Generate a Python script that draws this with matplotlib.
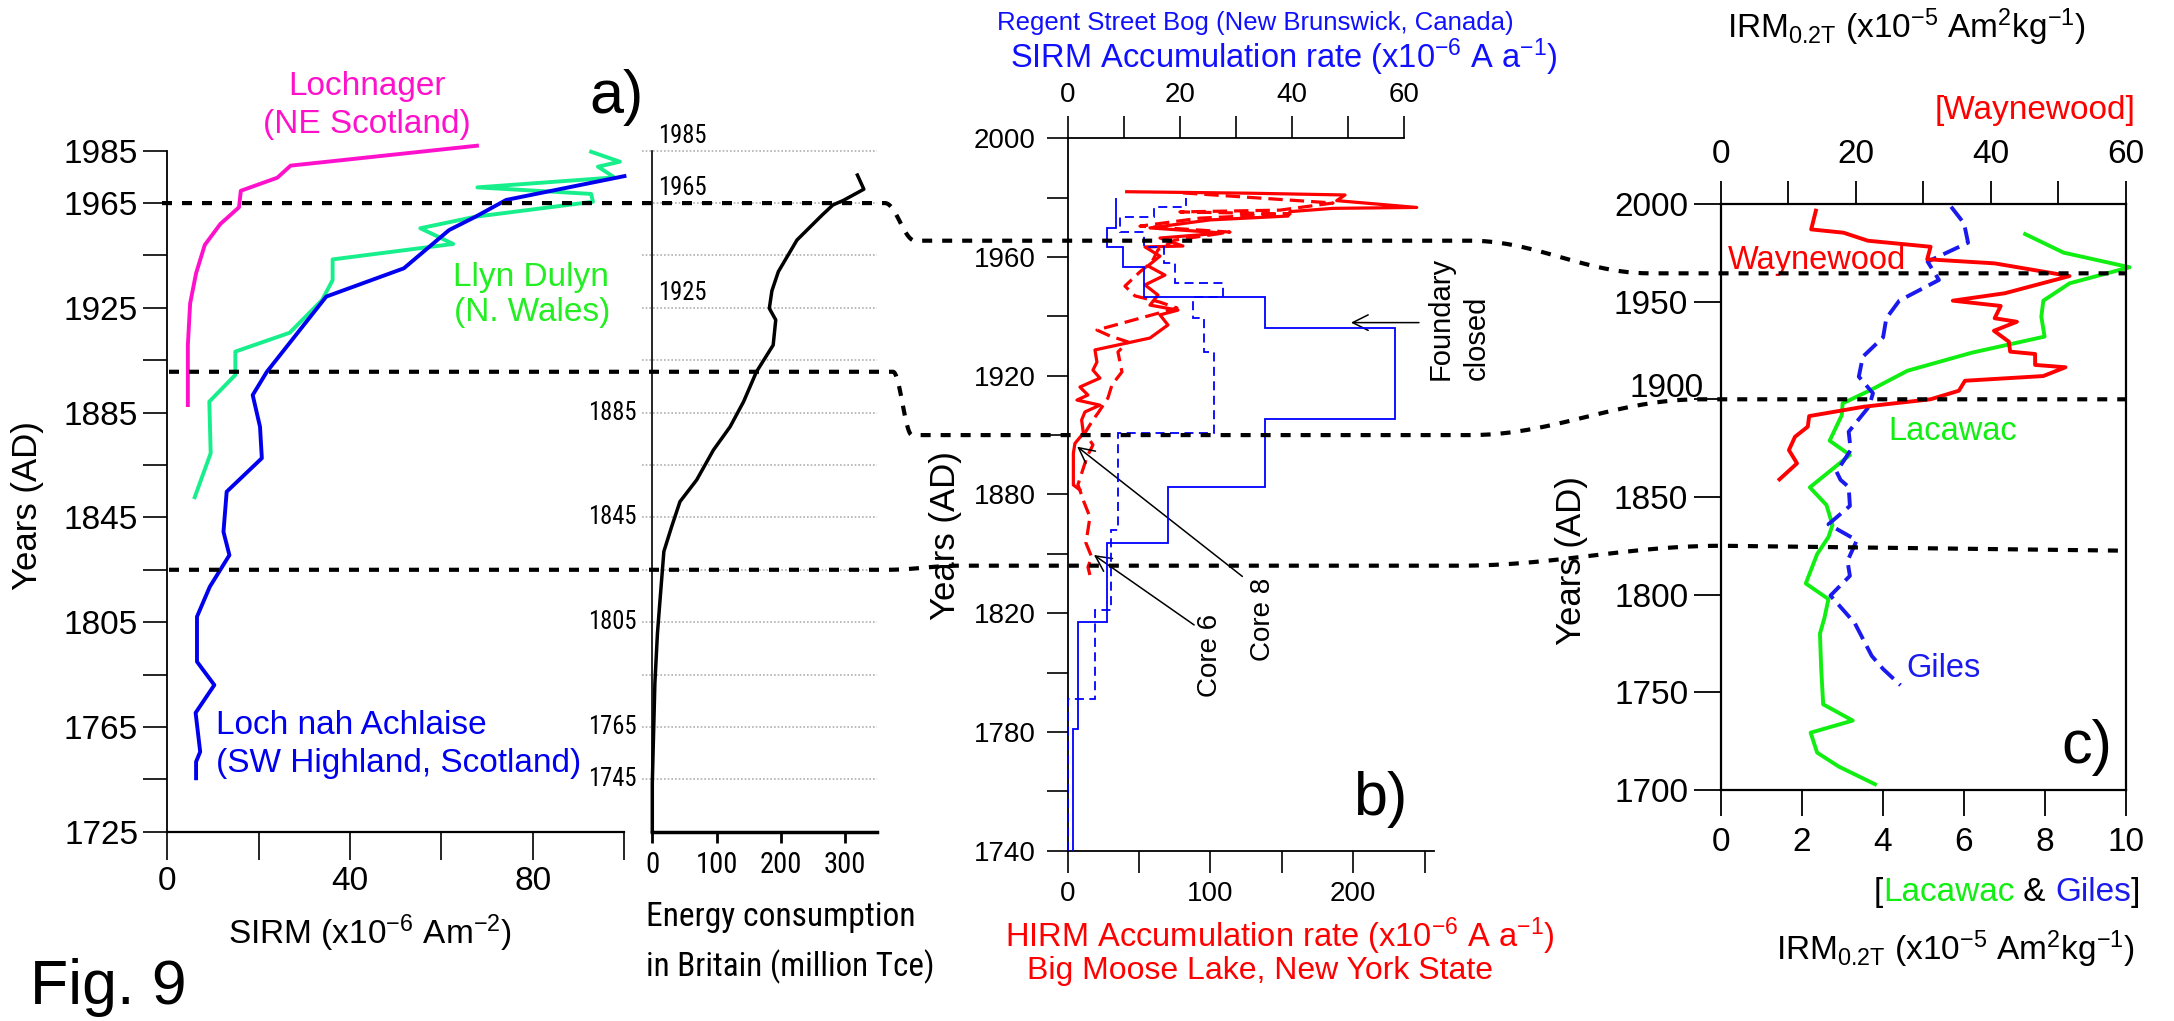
import numpy as np
import matplotlib
matplotlib.use("Agg")
import matplotlib.pyplot as plt
import matplotlib.font_manager as fm
from matplotlib.lines import Line2D
from matplotlib.transforms import ScaledTranslation

plt.rcParams['font.family'] = ['Liberation Sans', 'DejaVu Sans']
plt.rcParams['mathtext.fontset'] = 'custom'
plt.rcParams['mathtext.rm'] = 'Liberation Sans'
plt.rcParams['mathtext.it'] = 'Liberation Sans:italic'
plt.rcParams['mathtext.bf'] = 'Liberation Sans:bold'

# ---------------- data ----------------
# a) SIRM (x10-6 Am-2) in UK lake sediments
lochnager_year = [1986.9, 1979.3, 1974.7, 1969.7, 1963.4, 1957.0, 1949.0, 1938.2, 1926.7, 1910.8, 1887.9]
lochnager_sirm = [67.8, 27.0, 24.1, 16.1, 15.7, 11.6, 8.2, 6.3, 5.0, 4.5, 4.5]

dulyn_year = [1984.6, 1980.8, 1978.9, 1974.8, 1971.0, 1968.5, 1965.5, 1959.8, 1955.4, 1949.4,
              1943.5, 1935.6, 1928.0, 1915.5, 1908.3, 1899.4, 1889.2, 1869.5, 1852.7]
dulyn_sirm = [92.8, 99.1, 94.3, 97.9, 67.9, 92.8, 93.2, 67.5, 55.4, 62.6,
              36.2, 36.2, 33.9, 26.8, 14.9, 14.9, 9.2, 9.5, 6.0]

achlaise_year = [1975.3, 1966.2, 1959.8, 1954.7, 1940.1, 1929.3, 1900.6, 1891.7, 1879.6, 1867.6, 1854.8,
                 1839.5, 1830.6, 1818.5, 1807.1, 1789.9, 1781.0, 1770.4, 1755.5, 1751.7, 1745.4]
achlaise_sirm = [100.1, 74.2, 67.5, 61.7, 51.8, 34.8, 21.8, 18.7, 20.3, 20.7, 13.0,
                 12.3, 13.6, 9.3, 6.5, 6.5, 10.3, 6.2, 7.2, 6.3, 6.3]

# energy consumption in Britain (million Tce)
energy_year = [1975.7, 1970.3, 1966.0, 1964.3, 1960.4, 1950.9, 1938.8, 1931.5, 1924.8, 1920.4, 1910.8, 1900.6,
               1889.2, 1879.6, 1870.7, 1859.3, 1851.0, 1841.4, 1832.0, 1813.4, 1800.7, 1781.6, 1762.6, 1743.5, 1725.0]
energy_tce = [319, 329, 297, 281, 264, 225, 196, 186, 182, 192, 188, 162,
              142, 121, 95, 69, 43, 30, 18, 12, 8, 4, 2, 0, 0]
energy_grid_years = list(range(1745, 1986, 20))
energy_right_labels = [1985, 1965, 1925]
energy_left_labels = [1885, 1845, 1805, 1765, 1745]

# b) Regent Street Bog SIRM accumulation (steps) and Big Moose Lake HIRM accumulation
b_tick_years = [1740, 1760, 1780, 1800, 1820, 1850, 1880, 1900, 1920, 1940, 1960, 1980, 2000]
b_tick_labels = ['1740', '', '1780', '', '1820', '', '1880', '', '1920', '', '1960', '', '2000']

regent_solid_edges = [1740, 1781, 1817, 1855.5, 1882.5, 1905.5, 1936, 1946.6, 1956.7, 1963.5, 1969.9, 1979.8]
regent_solid_vals = [0.9, 1.9, 7.0, 18.0, 35.2, 58.3, 35.2, 13.7, 9.9, 7.1, 8.7]
regent_dash_edges = [1740, 1791.2, 1821.5, 1862.0, 1900.6, 1928.1, 1939.3, 1946.6, 1951.3, 1957.9,
                     1963.5, 1968.5, 1973.4, 1976.9, 1979.8]
regent_dash_vals = [0, 4.9, 7.8, 9.0, 26.1, 24.3, 22.4, 27.7, 19.1, 17.2, 13.7, 9.4, 15.4, 21.1]

core8_year = [1982.0, 1981.5, 1980.9, 1979.0, 1976.7, 1976.4, 1975.3, 1973.8, 1972.5, 1969.8, 1968.1, 1966.4,
              1963.7, 1963.4, 1960.3, 1957.0, 1953.9, 1950.6, 1947.2, 1943.8, 1942.1, 1940.5, 1937.1, 1932.7,
              1928.7, 1924.6, 1921.9, 1919.2, 1916.2, 1913.5, 1911.8, 1910.1, 1907.8, 1905.1, 1900.6, 1897.2,
              1893.9, 1883.2, 1881.5]
core8_hirm = [41.4, 127.7, 194.2, 188.4, 244.4, 185.8, 155.7, 154.3, 99.7, 57.7, 108.8, 64.7,
              80.8, 54.2, 64.7, 56.3, 68.2, 54.2, 63.3, 57.7, 77.3, 64.7, 70.3, 57.7,
              19.2, 20.6, 17.8, 22.7, 8.7, 14.3, 6.6, 22.7, 12.2, 9.9, 11.1, 5.2,
              4.1, 4.1, 8.7]
core6_year = [1981.6, 1978.2, 1975.8, 1975.2, 1974.5, 1973.1, 1970.4, 1968.4, 1965.7, 1962.4, 1958.3, 1955.0,
              1950.2, 1946.9, 1944.8, 1942.8, 1935.4, 1933.4, 1931.4, 1928.0, 1921.3, 1916.9, 1912.5, 1907.4,
              1905.1, 1900.7, 1896.7, 1892.6, 1883.3, 1876.2, 1868.6, 1862.0, 1855.5, 1848.4, 1843.3, 1839.3]
core6_hirm = [80.8, 185.8, 148.7, 78.7, 155.7, 92.7, 50.7, 113.7, 75.2, 63.3, 59.1, 50.7,
              40.2, 47.2, 64.7, 76.6, 20.6, 29.7, 42.3, 35.3, 38.1, 31.1, 28.3, 21.3,
              17.8, 12.2, 17.8, 13.6, 7.3, 11.5, 15.7, 14.3, 12.9, 16.9, 14.3, 15.7]

# c) IRM0.2T in US lakes
waynewood_year = [1996.6, 1987.0, 1985.3, 1981.2, 1978.1, 1971.7, 1969.6, 1963.1, 1954.3, 1950.5, 1947.8, 1941.5,
                  1939.7, 1935.1, 1929.5, 1924.4, 1923.2, 1917.6, 1916.4, 1911.9, 1909.5, 1904.4, 1900.0, 1896.2,
                  1891.4, 1886.0, 1880.8, 1874.0, 1867.2, 1859.0]
waynewood_irm = [14.1, 13.4, 18.2, 21.8, 31.1, 30.6, 40.6, 51.7, 42.1, 34.4, 41.5, 40.6,
                 43.9, 40.5, 42.7, 42.9, 46.6, 46.6, 51.1, 47.8, 36.2, 35.3, 31.1, 21.2,
                 13.1, 12.9, 11.0, 10.1, 11.3, 8.7]
lacawac_year = [1984.6, 1975.1, 1967.6, 1959.4, 1950.5, 1942.3, 1932.1, 1923.9, 1914.6, 1904.8, 1897.9, 1891.9,
                1878.8, 1871.5, 1854.9, 1845.9, 1835.6, 1829.5, 1820.7, 1805.7, 1797.7, 1788.0, 1780.0, 1762.4,
                1743.8, 1735.5, 1729.3, 1719.1, 1712.0, 1702.9]
lacawac_irm = [7.52, 8.47, 10.1, 8.62, 7.97, 7.92, 8.0, 6.21, 4.61, 3.71, 3.01, 2.99,
               2.69, 3.19, 2.2, 2.61, 2.76, 2.66, 2.38, 2.10, 2.66, 2.56, 2.45, 2.48,
               2.53, 3.26, 2.22, 2.38, 2.91, 3.81]
giles_year = [1998.6, 1990.1, 1980.2, 1970.5, 1961.1, 1950.5, 1941.5, 1931.7, 1921.8, 1911.6, 1903.1, 1896.2,
              1883.4, 1874.0, 1862.9, 1858.7, 1855.1, 1845.4, 1836.0, 1827.8, 1817.2, 1809.6, 1799.5, 1785.4,
              1768.6, 1761.9, 1753.6]
giles_irm = [5.69, 6.01, 6.11, 5.11, 5.39, 4.41, 4.09, 4.01, 3.51, 3.41, 3.76, 3.66,
             3.16, 3.21, 2.86, 2.96, 3.16, 3.19, 2.66, 3.36, 3.13, 3.19, 2.71, 3.31,
             3.73, 4.01, 4.44]

# correlated horizons (years) in each panel: a/energy, b, c (left end, right end)
horizon_a = [1965, 1900.6, 1825]
horizon_b = [1965.5, 1900, 1844]
horizon_c = [(1964.5, 1964.5), (1900, 1900), (1825, 1822.5)]


# ---------------- fonts ----------------
def pick_condensed():
    ttf = fm.fontManager.ttflist
    for name in ['Liberation Sans Narrow', 'Roboto Condensed', 'Open Sans Condensed', 'Noto Sans Condensed']:
        for f in ttf:
            if f.name == name and f.style == 'normal' and f.weight in (400, 'normal', 'regular'):
                return f.fname
    for f in ttf:
        if f.stretch in ('condensed', 'semi-condensed') and f.style == 'normal' \
                and f.weight in (400, 'normal', 'regular') and 'Sans' in f.name:
            return f.fname
    return None


COND_FILE = pick_condensed()


def cond_fp(size):
    if COND_FILE:
        return fm.FontProperties(fname=COND_FILE, size=size)
    return fm.FontProperties(family='Liberation Sans', size=size)


# ---------------- figure ----------------
W, H = 2174, 1021
fig = plt.figure(figsize=(W / 100, H / 100), dpi=100)
fig.patch.set_facecolor('white')
renderer = fig.canvas.get_renderer()


def axes_px(x0, y_top, x1, y_bot):
    return fig.add_axes([x0 / W, 1 - y_bot / H, (x1 - x0) / W, (y_bot - y_top) / H])


def ftext(x, y, s, **kw):
    return fig.text(x / W, 1 - y / H, s, **kw)


def fit_width(t, target):
    # the original lettering is narrower than any installed face: meet halfway
    # between the nominal size and the size that gives the original width
    w = t.get_window_extent(renderer).width
    fp = t.get_fontproperties().copy()
    nominal = fp.get_size_in_points()
    fp.set_size(np.sqrt(nominal * nominal * target / w))
    t.set_fontproperties(fp)


# ---- panel a
ax_a = axes_px(167.3, 150.7, 624.0, 831.7)
ax_a.set_xlim(0, 100)
ax_a.set_ylim(1725, 1985)
for sp in ['top', 'right']:
    ax_a.spines[sp].set_visible(False)
ax_a.spines['left'].set_linewidth(1.3)
ax_a.spines['bottom'].set_linewidth(1.6)
a_yt = list(range(1725, 1986, 20))
ax_a.set_yticks(a_yt)
ax_a.set_yticklabels([str(y) if y in (1725, 1765, 1805, 1845, 1885, 1925, 1965, 1985) else '' for y in a_yt])
ax_a.set_xticks(range(0, 101, 20))
ax_a.set_xticklabels(['0', '', '40', '', '80', ''])
ax_a.tick_params(axis='y', direction='out', length=17, width=1.2, labelsize=24, pad=4)
ax_a.tick_params(axis='x', direction='out', length=20, width=1.2, labelsize=24, pad=5)
ax_a.plot(lochnager_sirm, lochnager_year, color='#ff11cc', lw=2.8, clip_on=False)
ax_a.plot(dulyn_sirm, dulyn_year, color='#17ee8c', lw=2.8, clip_on=False)
ax_a.plot(achlaise_sirm, achlaise_year, color='#0000ee', lw=2.8, clip_on=False)

ftext(367, 86, 'Lochnager', color='#ff11cc', fontsize=24, ha='center', va='center')
ftext(367, 124, '(NE Scotland)', color='#ff11cc', fontsize=24, ha='center', va='center')
ftext(531, 277, 'Llyn Dulyn', color='#22ee22', fontsize=24, ha='center', va='center')
ftext(532, 313, '(N. Wales)', color='#22ee22', fontsize=24, ha='center', va='center')
ftext(216, 725, 'Loch nah Achlaise', color='#0000ee', fontsize=24, ha='left', va='center')
ftext(216, 763, '(SW Highland, Scotland)', color='#0000ee', fontsize=24, ha='left', va='center')
ftext(617, 97, 'a)', fontsize=44, ha='center', va='center')
ftext(27, 506, 'Years (AD)', fontsize=25, rotation=90, ha='center', va='center')
ftext(370, 933, 'SIRM (x10$^{-6}$ Am$^{-2}$)', fontsize=24, ha='center', va='center')
ftext(30, 987, 'Fig. 9', fontsize=45, ha='left', va='center')

# ---- energy panel
ax_e = axes_px(652.3, 150.7, 876.7, 831.7)
ax_e.set_xlim(0, 349)
ax_e.set_ylim(1725, 1985)
for sp in ['top', 'right']:
    ax_e.spines[sp].set_visible(False)
ax_e.spines['left'].set_linewidth(1.2)
ax_e.spines['bottom'].set_linewidth(2.5)
ax_e.set_yticks([])
ax_e.set_xticks([0, 100, 200, 300])
ax_e.tick_params(axis='x', direction='out', length=8, width=2, pad=6)
ax_e.hlines(energy_grid_years, -16.5, 349, colors='#b0b0b0', linestyles=(0, (1, 1.2)), lw=1.2, clip_on=False)
for y in energy_right_labels:
    t = ax_e.text(9, y + 1.0, str(y), fontproperties=cond_fp(21), ha='left', va='bottom')
    fit_width(t, 41)
for y in energy_left_labels:
    t = ax_e.text(-23.8, y, str(y), fontproperties=cond_fp(21), ha='right', va='center')
    fit_width(t, 41)
ax_e.plot(energy_tce, energy_year, color='black', lw=2.5, clip_on=False)
t = ftext(646, 917, 'Energy consumption', fontproperties=cond_fp(25), ha='left', va='center')
fit_width(t, 260)
t = ftext(646, 967, 'in Britain (million Tce)', fontproperties=cond_fp(25), ha='left', va='center')
fit_width(t, 276)
for lab in ax_e.get_xticklabels():
    lab.set_fontproperties(cond_fp(25))
    fit_width(lab, 35 if lab.get_text() != '0' else 12)

# ---- panel b
B_POS = np.arange(len(b_tick_years), dtype=float)


def b_fwd(y):
    y = np.asarray(y, float)
    out = np.interp(y, b_tick_years, B_POS)
    out = np.where(y < b_tick_years[0], (y - b_tick_years[0]) / 20.0, out)
    out = np.where(y > b_tick_years[-1], B_POS[-1] + (y - b_tick_years[-1]) / 20.0, out)
    return out


def b_inv(p):
    p = np.asarray(p, float)
    out = np.interp(p, B_POS, b_tick_years)
    out = np.where(p < 0, b_tick_years[0] + p * 20.0, out)
    out = np.where(p > B_POS[-1], b_tick_years[-1] + (p - B_POS[-1]) * 20.0, out)
    return out


ax_b = axes_px(1067.5, 138.3, 1433.9, 850.6)
ax_b.set_yscale('function', functions=(b_fwd, b_inv))
ax_b.set_ylim(1740, 2000)
ax_b.set_xlim(0, 256.4)
for sp in ['top', 'right']:
    ax_b.spines[sp].set_visible(False)
ax_b.spines['left'].set_linewidth(1.3)
ax_b.spines['bottom'].set_linewidth(1.3)
ax_b.set_yticks(b_tick_years)
ax_b.set_yticklabels(b_tick_labels)
ax_b.yaxis.set_minor_locator(matplotlib.ticker.NullLocator())
ax_b.set_xticks(range(0, 251, 50))
ax_b.set_xticklabels(['0', '', '100', '', '200', ''])
ax_b.tick_params(axis='y', direction='out', length=15, width=1.2, labelsize=20, pad=8)
ax_b.tick_params(axis='x', direction='out', length=16, width=1.2, labelsize=20, pad=6)

ax_bt = ax_b.twiny()
ax_bt.set_xlim(0, 65.3)
for sp in ['left', 'right', 'bottom']:
    ax_bt.spines[sp].set_visible(False)
ax_bt.spines['top'].set_bounds(0, 60)
ax_bt.spines['top'].set_linewidth(1.3)
ax_bt.set_xticks(range(0, 61, 10))
ax_bt.set_xticklabels(['0', '', '20', '', '40', '', '60'])
ax_bt.tick_params(axis='x', direction='out', length=16, width=1.2, labelsize=20, pad=6)

ax_bt.stairs(regent_solid_vals, regent_solid_edges, orientation='horizontal', baseline=None,
             color='#0000ff', lw=1.3)
ax_bt.stairs(regent_dash_vals, regent_dash_edges, orientation='horizontal', baseline=None,
             color='#0000ff', lw=1.3, linestyle=(0, (5, 3)))
ax_b.plot(core8_hirm, core8_year, color='red', lw=2.3, clip_on=False)
ax_b.plot(core6_hirm, core6_year, color='red', lw=2.3, linestyle=(0, (4.5, 2.2)), clip_on=False)

arrow = dict(arrowstyle='->', lw=1.1, color='black', mutation_scale=28)
ax_b.annotate('', xy=(196.4, 1937.9), xytext=(247.9, 1937.9), arrowprops=arrow, annotation_clip=False)
ax_b.annotate('', xy=(5.2, 1896.7), xytext=(123.9, 1837.7), arrowprops=arrow, annotation_clip=False)
ax_b.annotate('', xy=(16.9, 1850.2), xytext=(90.2, 1815.5), arrowprops=arrow, annotation_clip=False)
ax_b.text(261.4, 1918.5, 'Foundary', fontsize=21, rotation=90, ha='center', va='bottom')
ax_b.text(286.6, 1918.5, 'closed', fontsize=21, rotation=90, ha='center', va='bottom')
ax_b.text(99.4, 1805.6, 'Core 6', fontsize=20, rotation=90, ha='center', va='center')
ax_b.text(137.0, 1817.9, 'Core 8', fontsize=20, rotation=90, ha='center', va='center')

ftext(1380, 800, 'b)', fontsize=44, ha='center', va='center')
ftext(946, 536, 'Years (AD)', fontsize=25, rotation=90, ha='center', va='center')
ftext(997, 23, 'Regent Street Bog (New Brunswick, Canada)', color='#1010ff', fontsize=18.5,
      ha='left', va='center')
ftext(1010, 57, 'SIRM Accumulation rate (x10$^{-6}$ A a$^{-1}$)', color='#1010ff', fontsize=23.5,
      ha='left', va='center')
ftext(1005, 936, 'HIRM Accumulation rate (x10$^{-6}$ A a$^{-1}$)', color='red', fontsize=23.5,
      ha='left', va='center')
ftext(1027, 971, 'Big Moose Lake, New York State', color='red', fontsize=23, ha='left', va='center')

# ---- panel c
ax_c = axes_px(1720.8, 204, 2125.5, 789.9)
ax_c.set_ylim(1700, 2000)
ax_c.set_xlim(0, 10)
for sp in ax_c.spines.values():
    sp.set_linewidth(1.6)
ax_c.set_yticks(range(1700, 2001, 50))
ax_c.set_xticks(range(0, 11, 2))
ax_c.tick_params(axis='y', direction='out', length=19.5, width=1.3, labelsize=24, pad=4)
ax_c.tick_params(axis='x', direction='out', length=19, width=1.3, labelsize=24, pad=8)
for lab, val in zip(ax_c.get_yticklabels(), range(1700, 2001, 50)):
    if val == 1900:
        lab.set_transform(lab.get_transform() + ScaledTranslation(0.15, 0.14, fig.dpi_scale_trans))

ax_ct = ax_c.twiny()
ax_ct.set_xlim(0, 60)
for sp in ax_ct.spines.values():
    sp.set_visible(False)
ax_ct.set_xticks(range(0, 61, 10))
ax_ct.set_xticklabels(['0', '', '20', '', '40', '', '60'])
ax_ct.tick_params(axis='x', direction='out', length=16.5, width=1.3, labelsize=24, pad=8)

ax_ct.plot(waynewood_irm, waynewood_year, color='red', lw=2.8)
ax_c.plot(lacawac_irm, lacawac_year, color='#11ee11', lw=2.8, clip_on=False)
ax_c.plot(giles_irm, giles_year, color='#1a1aee', lw=2.8, linestyle=(0, (4.5, 2.0)))

ftext(1728, 260, 'Waynewood', color='red', fontsize=23.5, ha='left', va='center')
ftext(1888, 432, 'Lacawac', color='#11ee11', fontsize=23.5, ha='left', va='center')
ftext(1906, 668, 'Giles', color='#1a1aee', fontsize=23.5, ha='left', va='center')
ftext(2087, 748, 'c)', fontsize=44, ha='center', va='center')
ftext(1572, 561, 'Years (AD)', fontsize=25, rotation=90, ha='center', va='center')
ftext(1906, 27, r'IRM$_{\mathrm{0.2T}}$ (x10$^{-5}$ Am$^{2}$kg$^{-1}$)', fontsize=24, ha='center', va='center')
ftext(2035, 110, '[Waynewood]', color='red', fontsize=24, ha='center', va='center')
ftext(1955, 949, r'IRM$_{\mathrm{0.2T}}$ (x10$^{-5}$ Am$^{2}$kg$^{-1}$)', fontsize=24, ha='center', va='center')

xcur = 1873.6 / W
for s, c in [('[', 'black'), ('Lacawac', '#11ee11'), (' & ', 'black'), ('Giles', '#1a1aee'), (']', 'black')]:
    t = fig.text(xcur, 1 - 892.4 / H, s, color=c, fontsize=24, ha='left', va='center')
    xcur = t.get_window_extent(renderer).x1 / W

# ---- dashed horizons linking the panels
breaks = [(162, 885, 915, 1470, 1650, 2125.5),
          (169, 893, 912, 1470, 1700, 2125.5),
          (169, 887, 960, 1460, 1722, 2122)]


def disp_y(ax, year):
    return ax.transData.transform((ax.get_xlim()[0], year))[1]


for k in range(3):
    x0, x1, x2, x3, x4, x5 = breaks[k]
    ya = disp_y(ax_a, horizon_a[k])
    yb = disp_y(ax_b, horizon_b[k])
    yc0 = disp_y(ax_c, horizon_c[k][0])
    yc1 = disp_y(ax_c, horizon_c[k][1])
    t = np.linspace(0, 1, 25)
    s = (1 - np.cos(np.pi * t)) / 2
    xs = np.concatenate([[x0], x1 + (x2 - x1) * t, x3 + (x4 - x3) * t, [x5]])
    ys = np.concatenate([[ya], ya + (yb - ya) * s, yb + (yc0 - yb) * s, [yc1]])
    fig.add_artist(Line2D(xs / W, ys / H, transform=fig.transFigure, color='black', lw=3,
                          linestyle=(0, (2.4, 2.4)), zorder=10))

fig.savefig('out.png', dpi=100)
